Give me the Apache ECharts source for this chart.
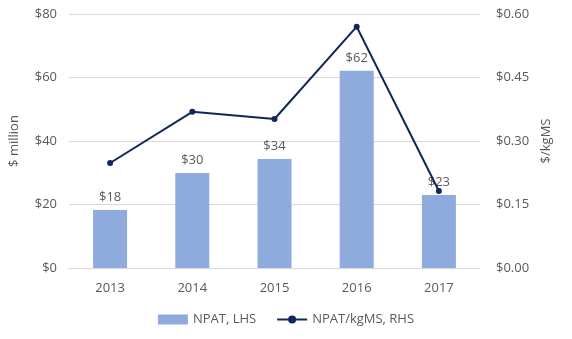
<!DOCTYPE html>
<html><head><meta charset="utf-8">
<script src="https://cdn.jsdelivr.net/npm/echarts@6/dist/echarts.min.js"></script>
<style>html,body{margin:0;padding:0;background:#fff}#c{width:572px;height:339px}</style>
</head><body><div id="c"></div>
<script>
const categories = ['2013', '2014', '2015', '2016', '2017'];
const npat = [18.3, 29.9, 34.3, 62.1, 23.0];
const npatLabels = ['$18', '$30', '$34', '$62', '$23'];
const perKgMS = [0.248, 0.369, 0.352, 0.570, 0.182];
const leftTicks = [0, 20, 40, 60, 80];
const rightTicks = [0, 0.15, 0.30, 0.45, 0.60];

const font = 'Open Sans';
const grey = '#595959';
const chart = echarts.init(document.getElementById('c'));
chart.setOption({
  animation: false,
  textStyle: { fontFamily: font },
  grid: { left: 68, right: 92, top: 14, bottom: 71 },
  legend: {
    bottom: 8, left: 'center', itemWidth: 30, itemHeight: 10, itemGap: 20,
    textStyle: { color: grey, fontSize: 13, fontFamily: font },
    data: [
      { name: 'NPAT, LHS', icon: 'rect' },
      { name: 'NPAT/kgMS, RHS' }
    ]
  },
  xAxis: {
    type: 'category', data: categories,
    axisTick: { show: false },
    axisLine: { lineStyle: { color: '#d9d9d9' } },
    axisLabel: { color: grey, fontSize: 13, margin: 14, fontFamily: font }
  },
  yAxis: [
    {
      type: 'value', min: leftTicks[0], max: leftTicks[leftTicks.length - 1], interval: 20,
      name: '$ million', nameLocation: 'middle', nameGap: 48, nameRotate: 90,
      nameTextStyle: { color: grey, fontSize: 13, fontFamily: font },
      axisLabel: { color: grey, fontSize: 13, margin: 12, formatter: v => '$' + v, fontFamily: font },
      splitLine: { lineStyle: { color: '#d9d9d9' } },
      axisLine: { show: false }, axisTick: { show: false }
    },
    {
      type: 'value', min: rightTicks[0], max: rightTicks[rightTicks.length - 1], interval: 0.15,
      name: '$/kgMS', nameLocation: 'middle', nameGap: 58, nameRotate: 90,
      nameTextStyle: { color: grey, fontSize: 13, fontFamily: font },
      axisLabel: { color: grey, fontSize: 13, margin: 16, formatter: v => '$' + v.toFixed(2), fontFamily: font },
      splitLine: { show: false },
      axisLine: { show: false }, axisTick: { show: false }
    }
  ],
  series: [
    {
      name: 'NPAT, LHS', type: 'bar', yAxisIndex: 0, data: npat, barWidth: 34,
      itemStyle: { color: '#8faadc' },
      label: {
        show: true, position: 'top', distance: 6, color: grey, fontSize: 13, fontFamily: font,
        formatter: p => npatLabels[p.dataIndex]
      }
    },
    {
      name: 'NPAT/kgMS, RHS', type: 'line', yAxisIndex: 1, data: perKgMS,
      symbol: 'circle', symbolSize: 6,
      lineStyle: { color: '#13265c', width: 2 },
      itemStyle: { color: '#13265c' },
      z: 5
    }
  ]
});
</script></body></html>
